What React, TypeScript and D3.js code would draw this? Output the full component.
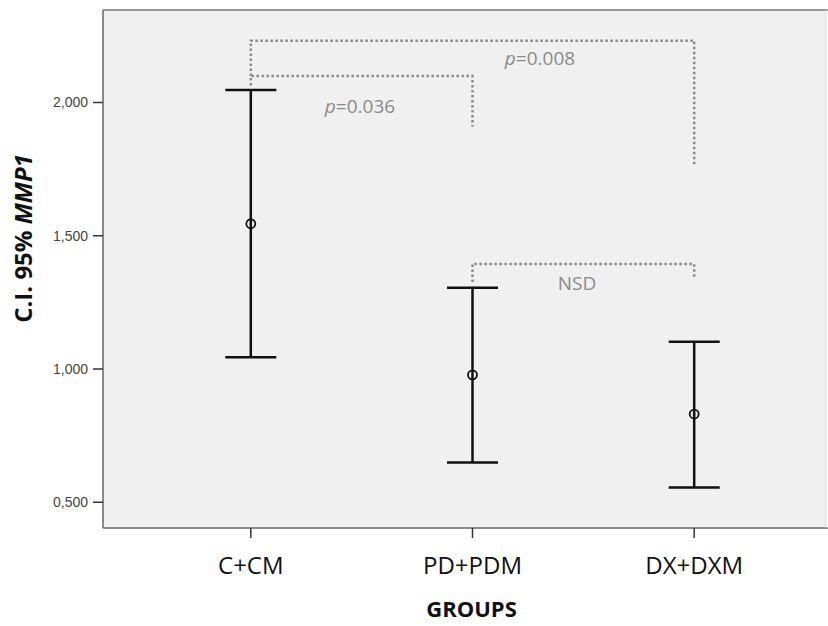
import React from "react";
import * as d3 from "d3";

const groups = ["C+CM", "PD+PDM", "DX+DXM"];
const means = [1.545, 0.978, 0.831];
const lowers = [1.044, 0.649, 0.555];
const uppers = [2.047, 1.305, 1.102];
const yTicks = [0.5, 1.0, 1.5, 2.0];
const yTickLabels = ["0,500", "1,000", "1,500", "2,000"];

// comparison brackets
const brackets = [
  { from: 0, to: 2, level: 2.232, leftEnd: 2.099, rightEnd: 1.76, label: "p=0.008", lx: 540, ly: 2.14 },
  { from: 0, to: 1, level: 2.099, leftEnd: 2.064, rightEnd: 1.91, label: "p=0.036", lx: 360, ly: 1.96 },
  { from: 1, to: 2, level: 1.394, leftEnd: 1.326, rightEnd: 1.338, label: "NSD", lx: 577, ly: 1.295 },
];

export default function App() {
  const W = 828, H = 626;
  const left = 103, top = 10, bottom = 528, right = 826;
  const x = d3.scalePoint<string>().domain(groups).range([left, 842]).padding(2 / 3);
  const y = d3.scaleLinear().domain([1.0, 2.0]).range([369, 102.5]);
  const capW = 25.5;
  const gray = "#8a8a8a";

  return (
    <svg width={W} height={H} style={{ position: "absolute", left: 0, top: 0 }}>
      <rect x={0} y={0} width={W} height={H} fill="#fff" />
      <rect x={left} y={top} width={right - left} height={bottom - top} fill="#f0f0f0" />
      <line x1={left} x2={right + 2} y1={top} y2={top} stroke="#777" strokeWidth={1.5} />
      <line x1={left} x2={right + 2} y1={bottom} y2={bottom} stroke="#666" strokeWidth={1.5} />
      <line x1={left} x2={left} y1={top} y2={bottom} stroke="#666" strokeWidth={1.5} />
      <line x1={right} x2={right} y1={top} y2={bottom} stroke="#ddd" strokeWidth={1} />

      {yTicks.map((t, i) => (
        <g key={t}>
          <line x1={left - 10} x2={left} y1={y(t)} y2={y(t)} stroke="#333" strokeWidth={1.5} />
          <text x={left - 15} y={y(t)} dy="0.35em" textAnchor="end" fontFamily="Liberation Sans, Arial" fontSize={14} fill="#444">
            {yTickLabels[i]}
          </text>
        </g>
      ))}

      {groups.map((g) => (
        <g key={g}>
          <line x1={x(g)} x2={x(g)} y1={bottom} y2={bottom + 10} stroke="#333" strokeWidth={1.5} />
          <text x={x(g)} y={bottom + 46} textAnchor="middle" fontFamily="Open Sans" fontSize={24} fill="#111">
            {g}
          </text>
        </g>
      ))}

      {brackets.map((b, i) => {
        const x1 = x(groups[b.from])!;
        const x2 = x(groups[b.to])!;
        const d = `M${x1},${y(b.leftEnd)}V${y(b.level)}H${x2}V${y(b.rightEnd)}`;
        return (
          <g key={i}>
            <path d={d} fill="none" stroke={gray} strokeWidth={2.5} strokeDasharray="2.5,2.5" />
            <text x={b.lx} y={y(b.ly)} textAnchor="middle" fontFamily="Open Sans" fontSize={19} fill={gray}>
              {b.label.startsWith("p") ? (
                <>
                  <tspan fontStyle="italic">p</tspan>
                  {b.label.slice(1)}
                </>
              ) : (
                b.label
              )}
            </text>
          </g>
        );
      })}

      {groups.map((g, i) => {
        const cx = x(g)!;
        return (
          <g key={g} stroke="#111" strokeWidth={2.5}>
            <line x1={cx} x2={cx} y1={y(uppers[i])} y2={y(lowers[i])} />
            <line x1={cx - capW} x2={cx + capW} y1={y(uppers[i])} y2={y(uppers[i])} />
            <line x1={cx - capW} x2={cx + capW} y1={y(lowers[i])} y2={y(lowers[i])} />
            <circle cx={cx} cy={y(means[i])} r={4.5} fill="none" strokeWidth={1.8} />
          </g>
        );
      })}

      <text transform="translate(32,238.5) rotate(-90)" textAnchor="middle" fontFamily="Open Sans" fontWeight="bold" fontSize={24} fill="#111">
        C.I. 95% <tspan fontStyle="italic">MMP1</tspan>
      </text>
      <text x={(left + 842) / 2 - 1} y={617} textAnchor="middle" fontFamily="Open Sans" fontWeight="bold" fontSize={22} fill="#111">
        GROUPS
      </text>
    </svg>
  );
}
